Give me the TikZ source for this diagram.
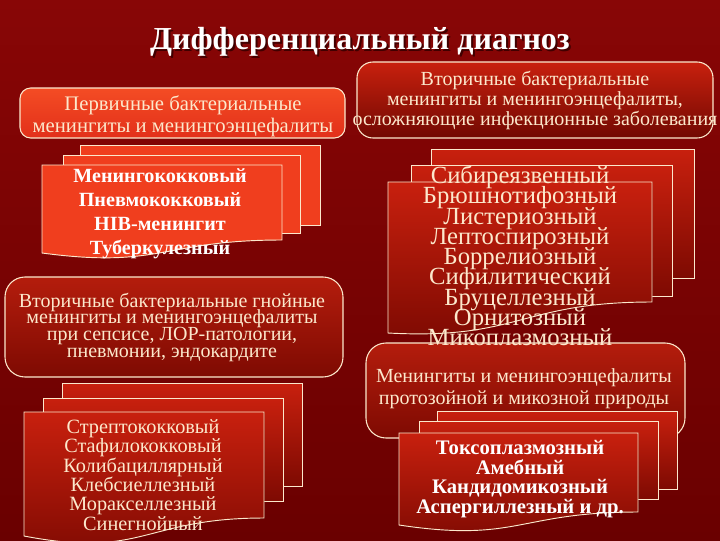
\documentclass[tikz,border=0pt]{standalone}
\usepackage{fontspec}
\setmainfont{Liberation Serif}
\usetikzlibrary{calc}

\definecolor{cream}{HTML}{FCE8CC}
\definecolor{bgtop}{HTML}{880606}
\definecolor{bgbot}{HTML}{6A0000}
\definecolor{flame}{HTML}{F03E1E}
\definecolor{flametop}{HTML}{F44C24}
\definecolor{flamebot}{HTML}{E2301A}
\definecolor{redtop}{HTML}{C8200E}
\definecolor{redbot}{HTML}{7E0A02}

\lineskiplimit=-100pt

\tikzset{
  panel/.style={draw=cream, line width=0.8pt, rounded corners=10pt},
  page/.style={draw=cream, line width=0.7pt},
  boxtext/.style={text=cream, align=center, inner sep=0pt},
}

\begin{document}
\begin{tikzpicture}[x=0.75pt,y=-0.75pt]

\fill[top color=bgtop, bottom color=bgbot] (0,0) rectangle (720,540);
\useasboundingbox (0,0) rectangle (720,540);

% title
\node[font=\bfseries\fontsize{24}{28}\selectfont, text=black!75!red] (titleshadow) at (362,44) {Дифференциальный диагноз};
\node[font=\bfseries\fontsize{24}{28}\selectfont, text=white] (title) at (360,42) {Дифференциальный диагноз};

% upper boxes
\draw[panel, rounded corners=8pt, top color=flametop, bottom color=flamebot] (20,88) rectangle (345,138);
\node[boxtext, font=\fontsize{15.5}{16.5}\selectfont] (primary) at (183,116)
  {Первичные бактериальные\\менингиты и менингоэнцефалиты};

\draw[panel, rounded corners=12pt, top color=redtop, bottom color=redbot!90!black] (357,62) rectangle (713,138);
\node[boxtext, font=\fontsize{15}{15}\selectfont] (secondary) at (535,100)
  {Вторичные бактериальные\\менингиты и менингоэнцефалиты,\\осложняющие инфекционные заболевания};

% left stack 1
\filldraw[page, fill=flame] (80,145) rectangle (320,225);
\filldraw[page, fill=flame] (63,155) rectangle (300,233);
\filldraw[page, fill=flame] (42,165) -- (282,165) -- (282,240)
  .. controls (162,240) and (162,269) .. (42,253) -- cycle;
\node[boxtext, text=white, font=\bfseries\fontsize{15.1}{18}\selectfont] (primlist) at (160,214)
  {Менингококковый\\Пневмококковый\\HIB-менингит\\Туберкулезный};

% left middle box
\draw[panel, rounded corners=15pt, top color=redtop!90!black, bottom color=redbot] (5,277) rectangle (343,377);
\node[boxtext, font=\fontsize{15}{12.5}\selectfont] (purulent) at (172,327)
  {Вторичные бактериальные гнойные\\менингиты и менингоэнцефалиты\\при сепсисе, ЛОР-патологии,\\пневмонии, эндокардите};

% right stack 1
\filldraw[page, top color=redtop, bottom color=redbot] (431,149) rectangle (694,278);
\filldraw[page, top color=redtop, bottom color=redbot] (411,165) rectangle (672,296);
\filldraw[page, top color=redtop, bottom color=redbot] (388,182) -- (652,182) -- (652,302)
  .. controls (520,302) and (520,340) .. (388,333) -- cycle;

% right middle box
\draw[panel, rounded corners=15pt, top color=redtop!90!black, bottom color=redbot] (366,343) rectangle (685,438);
\node[boxtext, font=\fontsize{15}{16.5}\selectfont] (protozoal) at (524,389)
  {Менингиты и менингоэнцефалиты\\протозойной и микозной природы};

\node[boxtext, font=\fontsize{18.5}{15.2}\selectfont] (seclist) at (520,256)
  {Сибиреязвенный\\Брюшнотифозный\\Листериозный\\Лептоспирозный\\Боррелиозный\\Сифилитический\\Бруцеллезный\\Орнитозный\\Микоплазмозный};

% left stack 2
\filldraw[page, top color=redtop, bottom color=redbot] (62,383) rectangle (302,486);
\filldraw[page, top color=redtop, bottom color=redbot] (43,398) rectangle (283,501);
\filldraw[page, top color=redtop, bottom color=redbot] (24,412) -- (264,412) -- (264,518)
  .. controls (144,518) and (144,559) .. (24,536) -- cycle;
\node[boxtext, font=\fontsize{15.2}{14.5}\selectfont] (purlist) at (143,475)
  {Стрептококковый\\Стафилококковый\\Колибациллярный\\Клебсиеллезный\\Моракселлезный\\Синегнойный};

% right stack 2
\filldraw[page, top color=redtop, bottom color=redbot] (437,411) rectangle (677,489);
\filldraw[page, top color=redtop, bottom color=redbot] (419,421) rectangle (658,499);
\filldraw[page, top color=redtop, bottom color=redbot] (399,433) -- (638,433) -- (638,512)
  .. controls (518,512) and (518,543) .. (399,525) -- cycle;
\node[boxtext, text=white, font=\bfseries\fontsize{15.5}{14.6}\selectfont] (protlist) at (520,479)
  {Токсоплазмозный\\Амебный\\Кандидомикозный\\Аспергиллезный и др.};

\end{tikzpicture}
\end{document}
